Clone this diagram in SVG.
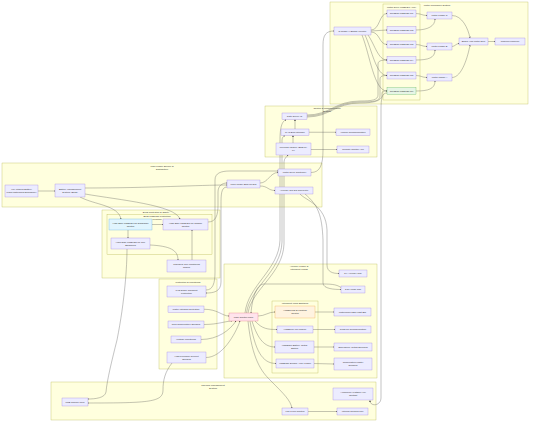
<svg xmlns="http://www.w3.org/2000/svg" width="534" height="426" viewBox="0 0 534 426">
<defs>
<style>
.c{fill:#ffffde;stroke:#aaaa33;stroke-width:0.3}
.n{fill:#ECECFF;stroke:#9370DB;stroke-width:0.3}
.e{fill:none;stroke:#555;stroke-width:0.35}
text{font-family:"Liberation Sans",Arial,sans-serif;font-size:2.4px;fill:#333;text-anchor:middle}
</style>
<marker id="a" viewBox="0 0 10 10" refX="9" refY="5" markerWidth="1.6" markerHeight="1.6" markerUnits="userSpaceOnUse" orient="auto"><path d="M0,0 L10,5 L0,10 z" fill="#333"/></marker>
</defs>
<rect width="534" height="426" fill="#fff"/>
<g id="clusters">
<rect class="c" x="330" y="2" width="198" height="102"/>
<text x="437" y="5.6">Motor Propulsion System</text>
<rect class="c" x="383" y="4" width="37" height="96"/>
<text x="401.5" y="7.6">Motor Drive MOSFET Array</text>
<rect class="c" x="265" y="106" width="112" height="51"/>
<text x="327" y="109.4">Control &amp; Communication</text>
<text x="327" y="112.4">System</text>
<rect class="c" x="2" y="163" width="320" height="44"/>
<text x="162" y="167">Main Power Source &amp;</text>
<text x="162" y="170">Distribution</text>
<rect class="c" x="102" y="210" width="118" height="68"/>
<text x="156" y="213">BMS Protection &amp; Safety</text>
<rect class="c" x="107" y="214.5" width="105" height="40"/>
<text x="157" y="217.3">BMS MOSFET Protection</text>
<text x="157" y="220.3">Function</text>
<rect class="c" x="159" y="279" width="58" height="90"/>
<text x="188" y="282.5">Protection &amp; Monitoring</text>
<rect class="c" x="224" y="264" width="153" height="114"/>
<text x="299" y="267.3">Auxiliary Power &amp;</text>
<text x="299" y="270.3">Intelligent Loads</text>
<rect class="c" x="272" y="301" width="46" height="72"/>
<text x="295" y="304">Intelligent Load Switches</text>
<rect class="c" x="51" y="382" width="325" height="38"/>
<text x="213" y="385.6">Thermal Management</text>
<text x="213" y="388.6">System</text>
</g>
<g id="connectors" marker-end="url(#a)">
<path class="e" d="M38 191 L55 191"/>
<path class="e" d="M85 188 C150 188 200 185 227 185"/>
<path class="e" d="M80 197 C95 205 118 205 121 219"/>
<path class="e" d="M85 194 C120 200 175 205 180 219"/>
<path class="e" d="M128 230 L128 238"/>
<path class="e" d="M152 224.5 L163 224.5"/>
<path class="e" d="M150 245 C170 246 178 250 178 260"/>
<path class="e" d="M192 260 L192 230"/>
<path class="e" d="M208 222 C216 222 218 215 218 205 L218 192 C218 186 222 183 227 183"/>
<path class="e" d="M260 183 C268 183 270 172.5 278 172.5"/>
<path class="e" d="M260 186 C268 186 268 190.5 275 190.5"/>
<path class="e" d="M311 172.5 C320 172.5 323 165 323 150 L323 45 C323 35 326 31 334 31"/>
<path class="e" d="M371 30 C380 30 379 13.5 387 13.5"/>
<path class="e" d="M371 31 L387 30"/>
<path class="e" d="M371 32 C380 32 379 44.5 387 44.5"/>
<path class="e" d="M368 35 C375 45 378 60 387 60"/>
<path class="e" d="M365 35 C372 50 376 75.5 387 75.5"/>
<path class="e" d="M362 35 C370 55 374 91 387 91"/>
<path class="e" d="M307 115 C330 115 335 101 360 101 C372 101 378 100 378 95 L378 64 C378 61 381 60 387 60"/>
<path class="e" d="M307 116 C330 116 335 102 360 102 C374 102 380 101 380 96 L380 79 C380 76 383 75.5 387 75.5"/>
<path class="e" d="M307 117 C330 117 335 103 360 103 C376 103 382 100 382 95 L382 93 C382 91 384 91 387 91"/>
<path class="e" d="M416 13.5 C421 13.5 422 15.5 427 15.5"/>
<path class="e" d="M416 30 C428 30 435 26 435 19"/>
<path class="e" d="M416 44.5 C421 44.5 422 46.5 427 46.5"/>
<path class="e" d="M416 60 C428 60 435 58 435 50"/>
<path class="e" d="M416 75.5 C421 75.5 422 77.5 427 77.5"/>
<path class="e" d="M416 91 C428 91 435 89 435 81"/>
<path class="e" d="M452 15.5 C462 15.5 468 28 470 38"/>
<path class="e" d="M452 46.5 C455 46.5 456 43.5 459 43.5"/>
<path class="e" d="M452 77.5 C462 77.5 468 56 470 45"/>
<path class="e" d="M488 41.5 L495 41.5"/>
<path class="e" d="M295 129 L295 119.5"/>
<path class="e" d="M309 132.25 L336 132.25"/>
<path class="e" d="M293 143 L293 135.5"/>
<path class="e" d="M311 149.5 L337 149.5"/>
<path class="e" d="M245 313 C248 285 279 270 280 240 L280 140 C280 122 284 121 286 119.5"/>
<path class="e" d="M246.5 313 C250 287 281 272 282 242 L282 140 C282 137 284 136 285 135.5"/>
<path class="e" d="M248 313 C252 289 283 274 284 244 L284 162 C284 158 287 157 288 155"/>
<path class="e" d="M300 194 C305 200 326 205 327 230 L327 265 C327 272 333 273.5 339 273.5"/>
<path class="e" d="M305 194 C318 205 322 215 323 240 L323 283 C323 289 335 289.5 341 289.5"/>
<path class="e" d="M341 287.5 C336 284 330 284 320 284 L264 284 C256 284 252 300 251 313"/>
<path class="e" d="M258 316 C265 316 268 312 275 312"/>
<path class="e" d="M255 321 C262 329 268 329.5 277 329.5"/>
<path class="e" d="M252 321 C258 340 265 347 275 347"/>
<path class="e" d="M250 321 C255 350 262 363.5 276 363.5"/>
<path class="e" d="M248 321 C252 360 262 372 270 380 C285 395 290 400 292 408"/>
<path class="e" d="M315 312 L334 312"/>
<path class="e" d="M313 329.5 L335 329.5"/>
<path class="e" d="M314 347 L334 347"/>
<path class="e" d="M314 363.5 L334 364"/>
<path class="e" d="M308 411.5 L337 411.5"/>
<path class="e" d="M204 309.25 C218 309.25 222 316 229 316"/>
<path class="e" d="M204 324.5 C218 324.5 226 321 232 321"/>
<path class="e" d="M201 339.5 C218 339.5 230 330 236 321"/>
<path class="e" d="M206 357.5 C222 357.5 235 335 240 321"/>
<path class="e" d="M206 290 C213 290 215 283 215 272 L215 180 C215 173 221 171 230 171 L278 171"/>
<path class="e" d="M227 187 C221 187 221 195 221 205 L221 282 C221 292 213 293 206 293"/>
<path class="e" d="M127 249 C127 265 125 300 117 340 C112 360 107 380 106 392 C105 398 95 399 88 399"/>
<path class="e" d="M172 363 C165 372 163 380 163 390 C163 402 150 403 88 403"/>
<path class="e" d="M387 93 C382 93 381 98 381 110 L381 398 C381 406 370 407 370 400.5"/>
</g>
<g id="n-inv"><rect class="n" x="334" y="27" width="37" height="8"/><text x="352.5" y="31.85">3-Phase H-Bridge Inverter</text></g>
<g id="n-q1"><rect class="n" x="387" y="10" width="29" height="7"/><text x="401.5" y="14.35">IRF3205 MOSFET Q1</text></g>
<g id="n-q2"><rect class="n" x="387" y="26.5" width="29" height="7"/><text x="401.5" y="30.85">IRF3205 MOSFET Q2</text></g>
<g id="n-q3"><rect class="n" x="387" y="41" width="29" height="7"/><text x="401.5" y="45.35">IRF3205 MOSFET Q3</text></g>
<g id="n-q4"><rect class="n" x="387" y="56.5" width="29" height="7"/><text x="401.5" y="60.85">IRF3205 MOSFET Q4</text></g>
<g id="n-q5"><rect class="n" x="387" y="72" width="29" height="7"/><text x="401.5" y="76.35">IRF3205 MOSFET Q5</text></g>
<g id="n-q6"><rect x="387" y="87.5" width="29" height="7" fill="#e6f5e6" stroke="#4caf50" stroke-width="0.3"/><text x="401.5" y="91.85">IRF3205 MOSFET Q6</text></g>
<g id="n-phc"><rect class="n" x="427" y="12" width="25" height="7"/><text x="439.5" y="16.35">Motor Phase C</text></g>
<g id="n-phb"><rect class="n" x="427" y="43" width="25" height="7"/><text x="439.5" y="47.35">Motor Phase B</text></g>
<g id="n-pha"><rect class="n" x="427" y="74" width="25" height="7"/><text x="439.5" y="78.35">Motor Phase A</text></g>
<g id="n-bldc"><rect class="n" x="459" y="38" width="29" height="7"/><text x="473.5" y="42.35">BLDC Hub Motor 5kW</text></g>
<g id="n-prop"><rect class="n" x="495" y="38" width="30" height="7"/><text x="510" y="42.35">Propeller/Impeller</text></g>
<g id="n-gate"><rect class="n" x="282" y="113" width="25" height="6.5"/><text x="294.5" y="117.1">Gate Driver IC</text></g>
<g id="n-can"><rect class="n" x="281" y="129" width="28" height="6.5"/><text x="295" y="133.1">CAN Bus Interface</text></g>
<g id="n-wifi"><rect class="n" x="276" y="143" width="35" height="12"/><text x="293.5" y="148.45">Wireless Module (BLE/Wi-</text><text x="293.5" y="151.25">Fi)</text></g>
<g id="n-vcom"><rect class="n" x="336" y="129" width="34" height="6.5"/><text x="353" y="133.1">Vehicle Communication</text></g>
<g id="n-remote"><rect class="n" x="337" y="146" width="32" height="7"/><text x="353" y="150.35">Remote Control App</text></g>
<g id="n-bat"><rect class="n" x="5" y="185" width="33" height="12"/><text x="21.5" y="190.45">48V Lithium Battery</text><text x="21.5" y="193.25">Pack(Waterproof Enclosure)</text></g>
<g id="n-bms"><rect class="n" x="55" y="184" width="30" height="13"/><text x="70" y="189.95">Battery Management</text><text x="70" y="192.75">System (BMS)</text></g>
<g id="n-bus"><rect class="n" x="227" y="180" width="33" height="8"/><text x="243.5" y="184.85">Main Power Bus/48VDC</text></g>
<g id="n-mdc"><rect class="n" x="278" y="169" width="33" height="7"/><text x="294.5" y="173.35">Motor Drive Controller</text></g>
<g id="n-dcdc"><rect class="n" x="275" y="187" width="38" height="7"/><text x="294" y="191.35">Auxiliary DC-DC Converter</text></g>
<g id="n-dsg"><rect x="109" y="219" width="43" height="11" fill="#e1f5fe" stroke="#4aa3df" stroke-width="0.3"/><text x="130.5" y="223.95">High-Side MOSFET for Discharge</text><text x="130.5" y="226.75">Control</text></g>
<g id="n-chg"><rect class="n" x="163" y="219" width="45" height="11"/><text x="185.5" y="223.95">High-Side MOSFET for Charge</text><text x="185.5" y="226.75">Control</text></g>
<g id="n-bal"><rect class="n" x="111" y="238" width="39" height="11"/><text x="130.5" y="242.95">High-Side MOSFET for Cell</text><text x="130.5" y="245.75">Balancing</text></g>
<g id="n-cell"><rect class="n" x="167" y="260" width="39" height="12"/><text x="186.5" y="265.45">Individual Cell Monitoring</text><text x="186.5" y="268.25">Nodes</text></g>
<g id="n-tvs"><rect class="n" x="167" y="286" width="39" height="11"/><text x="186.5" y="290.95">TVS Diode Transient</text><text x="186.5" y="293.75">Protection</text></g>
<g id="n-water"><rect class="n" x="168" y="306" width="36" height="6.5"/><text x="186" y="310.1">Water Intrusion Detection</text></g>
<g id="n-ntc"><rect class="n" x="168" y="321" width="36" height="7"/><text x="186" y="325.35">NTC Temperature Sensors</text></g>
<g id="n-volt"><rect class="n" x="171" y="336" width="30" height="7"/><text x="186" y="340.35">Voltage Monitoring</text></g>
<g id="n-curr"><rect class="n" x="167" y="352" width="39" height="11"/><text x="186.5" y="356.95">High-Precision Current</text><text x="186.5" y="359.75">Sensing</text></g>
<g id="n-mcu"><rect x="229" y="313" width="29" height="8" fill="#ffe4ec" stroke="#e0607a" stroke-width="0.3"/><text x="243.5" y="317.85">Main Control MCU</text></g>
<g id="n-5v"><rect class="n" x="339" y="270" width="28" height="7"/><text x="353" y="274.35">5V Auxiliary Rail</text></g>
<g id="n-3v3"><rect class="n" x="341" y="286" width="24" height="7"/><text x="353" y="290.35">3.3V Logic Rail</text></g>
<g id="n-light"><rect x="275" y="306" width="40" height="12" fill="#fff3e0" stroke="#f0a030" stroke-width="0.3"/><text x="295" y="311.45">VN5E160S-E Lighting</text><text x="295" y="314.25">Control</text></g>
<g id="n-led"><rect class="n" x="334" y="308" width="37" height="8"/><text x="352.5" y="312.85">Waterproof LED Light Bar</text></g>
<g id="n-iot"><rect class="n" x="277" y="326" width="36" height="7"/><text x="295" y="330.35">VN5E010 IoT Module</text></g>
<g id="n-gps"><rect class="n" x="335" y="326" width="36" height="7"/><text x="353" y="330.35">GPS/IoT Communication</text></g>
<g id="n-cut"><rect class="n" x="275" y="341" width="39" height="12"/><text x="294.5" y="346.45">VN5E050 Battery Cutoff</text><text x="294.5" y="349.25">Switch</text></g>
<g id="n-emerg"><rect class="n" x="334" y="343" width="38" height="8"/><text x="353" y="347.85">Emergency Cutoff Solenoid</text></g>
<g id="n-sens"><rect class="n" x="276" y="359" width="38" height="9"/><text x="295" y="364.35">VN5E050 Sensor Array Power</text></g>
<g id="n-temp"><rect class="n" x="334" y="358" width="38" height="12"/><text x="353" y="363.45">Temperature/Water</text><text x="353" y="366.25">Sensors</text></g>
<g id="n-pcb"><rect class="n" x="62" y="398" width="26" height="8"/><text x="75" y="402.85">PCB Copper Pour</text></g>
<g id="n-heat"><rect class="n" x="333" y="388" width="40" height="12"/><text x="353" y="393.45">Aluminum Heatsink Hull</text><text x="353" y="396.25">Contact</text></g>
<g id="n-fan"><rect class="n" x="282" y="408" width="26" height="7"/><text x="295" y="412.35">Fan PWM Control</text></g>
<g id="n-ifan"><rect class="n" x="337" y="408" width="31" height="7"/><text x="352.5" y="412.35">Internal Cooling Fan</text></g>
</svg>
